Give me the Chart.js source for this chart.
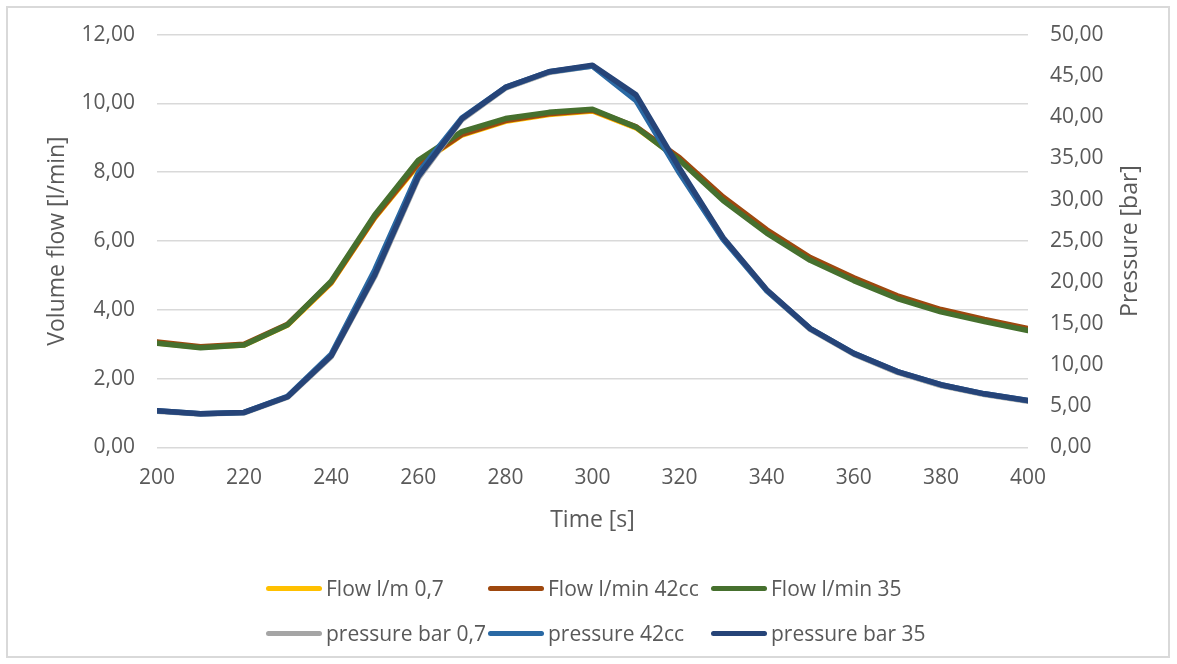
<!DOCTYPE html>
<html>
<head>
<meta charset="utf-8">
<script src="https://cdn.jsdelivr.net/npm/chart.js@4.4.1/dist/chart.umd.min.js"></script>
<style>
  html, body { margin: 0; padding: 0; background: #fff; }
  body { width: 1177px; height: 664px; position: relative; overflow: hidden;
         font-family: 'Open Sans', sans-serif; color: #595959; }
  #frame { position: absolute; left: 6px; top: 6px; width: 1164px; height: 652px;
           border: 2px solid #d9d9d9; box-sizing: border-box; }
  #chart { position: absolute; left: 0; top: 0; }
  #legend { position: absolute; left: 0; top: 0; width: 1177px; height: 664px; }
  .item { position: absolute; display: flex; align-items: center; font-size: 21px;
          white-space: nowrap; transform: translateY(-50%); }
  .swatch { width: 56px; height: 5px; border-radius: 3px; margin-right: 4px; }
</style>
</head>
<body>
<div id="frame"></div>
<canvas id="chart" width="1177" height="560"></canvas>
<div id="legend"></div>
<script>
// Sample times [s]
const timeSeconds = [200, 210, 220, 230, 240, 250, 260, 270, 280, 290, 300,
                     310, 320, 330, 340, 350, 360, 370, 380, 390, 400];

// Volume flow [l/min]
const flow07 = [3.04, 2.91, 2.98, 3.56, 4.78, 6.68, 8.22, 9.08, 9.48, 9.68, 9.78,
                9.29, 8.38, 7.24, 6.29, 5.48, 4.89, 4.37, 3.97, 3.69, 3.43];
const flow42cc = [3.07, 2.93, 3.00, 3.58, 4.80, 6.70, 8.25, 9.10, 9.50, 9.70, 9.80,
                  9.32, 8.42, 7.28, 6.33, 5.52, 4.93, 4.41, 4.01, 3.72, 3.46];
const flow35 = [3.03, 2.90, 2.98, 3.57, 4.83, 6.76, 8.35, 9.18, 9.56, 9.74, 9.83,
                9.31, 8.35, 7.18, 6.23, 5.44, 4.85, 4.33, 3.94, 3.66, 3.40];

// Pressure [bar]
const pressure07 = [4.40, 4.05, 4.20, 6.10, 11.0, 20.7, 32.6, 39.7, 43.5, 45.4, 46.2,
                    42.4, 33.6, 25.3, 19.0, 14.3, 11.3, 9.10, 7.50, 6.40, 5.60];
const pressure42cc = [4.45, 4.10, 4.25, 6.20, 11.3, 21.5, 33.3, 39.9, 43.6, 45.5, 46.2,
                      42.0, 33.2, 25.2, 19.0, 14.4, 11.4, 9.20, 7.60, 6.50, 5.70];
const pressure35 = [4.45, 4.10, 4.25, 6.15, 11.1, 20.9, 32.8, 39.8, 43.6, 45.5, 46.3,
                    42.7, 33.8, 25.4, 19.1, 14.4, 11.4, 9.20, 7.60, 6.50, 5.70];

// Axis tick definitions
const flowTicks = [0, 2, 4, 6, 8, 10, 12];
const pressureTicks = [0, 5, 10, 15, 20, 25, 30, 35, 40, 45, 50];
const timeTicks = [200, 220, 240, 260, 280, 300, 320, 340, 360, 380, 400];

const seriesLabels = ['Flow l/m 0,7', 'Flow l/min 42cc', 'Flow l/min 35',
                      'pressure bar 0,7', 'pressure 42cc', 'pressure bar 35'];
const seriesColors = ['#FFC000', '#9E480E', '#46702E', '#A5A5A5', '#2A69A4', '#264478'];
const seriesValues = [flow07, flow42cc, flow35, pressure07, pressure42cc, pressure35];
const seriesAxis = ['yFlow', 'yFlow', 'yFlow', 'yPressure', 'yPressure', 'yPressure'];

const FONT = "'Open Sans', sans-serif";
const TEXT = '#595959';
const comma = v => v.toFixed(2).replace('.', ',');

const datasets = seriesLabels.map((label, i) => ({
  label,
  data: timeSeconds.map((t, k) => ({ x: t, y: seriesValues[i][k] })),
  yAxisID: seriesAxis[i],
  borderColor: seriesColors[i],
  backgroundColor: seriesColors[i],
  borderWidth: 5.5,
  pointRadius: 0,
  tension: 0,
  borderJoinStyle: 'round',
  borderCapStyle: 'round',
  fill: false,
  order: seriesLabels.length - i   // later series are painted on top
}));

// Right-hand axis title, reading bottom to top
const pressureTitle = {
  id: 'pressureTitle',
  afterDraw(chart) {
    const s = chart.scales.yPressure;
    const ctx = chart.ctx;
    ctx.save();
    ctx.translate(s.right - 47, (s.top + s.bottom) / 2);
    ctx.rotate(-Math.PI / 2);
    ctx.font = `23px ${FONT}`;
    ctx.fillStyle = TEXT;
    ctx.textAlign = 'center';
    ctx.textBaseline = 'middle';
    ctx.fillText('Pressure [bar]', 0, 0);
    ctx.restore();
  }
};

new Chart(document.getElementById('chart'), {
  type: 'line',
  data: { datasets },
  plugins: [pressureTitle],
  options: {
    responsive: false,
    animation: false,
    devicePixelRatio: 1,
    layout: { padding: { top: 34, left: 0, right: 0, bottom: 0 } },
    plugins: { legend: { display: false }, tooltip: { enabled: false } },
    scales: {
      x: {
        type: 'linear',
        min: 200, max: 400,
        afterBuildTicks: s => { s.ticks = timeTicks.map(v => ({ value: v })); },
        afterFit: s => { s.height = 112.5; },
        grid: { display: false },
        border: { display: false },
        ticks: { color: TEXT, font: { family: FONT, size: 21 }, padding: 10, maxRotation: 0 },
        title: { display: true, text: 'Time [s]', color: TEXT,
                 font: { family: FONT, size: 23 }, padding: { top: 0, bottom: 26 } }
      },
      yFlow: {
        type: 'linear',
        position: 'left',
        min: 0, max: 12,
        afterBuildTicks: s => { s.ticks = flowTicks.map(v => ({ value: v })); },
        afterFit: s => { s.width = 157; },
        grid: { color: '#d9d9d9', lineWidth: 1.5, drawTicks: false },
        border: { display: false },
        ticks: { color: TEXT, font: { family: FONT, size: 21 }, padding: 22, callback: v => comma(v) },
        title: { display: true, text: 'Volume flow [l/min]', color: TEXT,
                 font: { family: FONT, size: 23 }, padding: { top: 44, bottom: 0 } }
      },
      yPressure: {
        type: 'linear',
        position: 'right',
        min: 0, max: 50,
        afterBuildTicks: s => { s.ticks = pressureTicks.map(v => ({ value: v })); },
        afterFit: s => { s.width = 149; },
        grid: { display: false, drawTicks: false },
        border: { display: false },
        ticks: { color: TEXT, font: { family: FONT, size: 21 }, padding: 22, callback: v => comma(v) }
      }
    }
  }
});

// Legend: two rows of three entries
const legendCols = [266, 488, 711];
const legendRows = [588, 633];
const legend = document.getElementById('legend');
seriesLabels.forEach((label, i) => {
  const item = document.createElement('div');
  item.className = 'item';
  item.style.left = legendCols[i % 3] + 'px';
  item.style.top = legendRows[Math.floor(i / 3)] + 'px';
  const sw = document.createElement('span');
  sw.className = 'swatch';
  sw.style.background = seriesColors[i];
  const tx = document.createElement('span');
  tx.textContent = label;
  item.appendChild(sw);
  item.appendChild(tx);
  legend.appendChild(item);
});
</script>
</body>
</html>
